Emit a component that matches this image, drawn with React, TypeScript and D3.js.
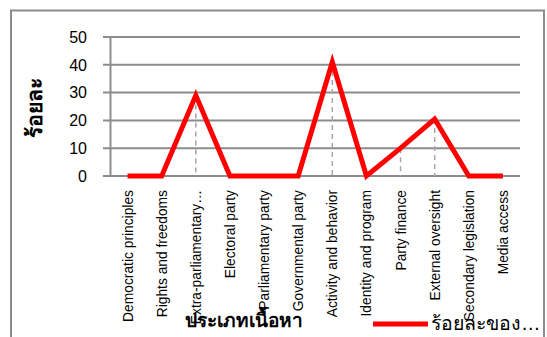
import React from "react";
import * as d3 from "d3";

const categories = [
  "Democratic principles",
  "Rights and freedoms",
  "Extra-parliamentary…",
  "Electoral party",
  "Parliamentary party",
  "Governmental party",
  "Activity and behavior",
  "Identity and program",
  "Party finance",
  "External oversight",
  "Secondary legislation",
  "Media access",
];
const values = [0, 0, 29, 0, 0, 0, 41, 0, 10, 20.5, 0, 0];
const yTicks = [0, 10, 20, 30, 40, 50];
const yTitle = "ร้อยละ";
const xTitle = "ประเภทเนื้อหา";
const legendLabel = "ร้อยละของ…";

const W = 547;
const H = 337;
const FONT = "'Liberation Sans', Arial, sans-serif";

export default function App() {
  const left = 110.5;
  const right = 520;
  const top = 37;
  const bottom = 176;
  const x = d3.scaleBand<string>().domain(categories).range([left, right]);
  const y = d3.scaleLinear().domain([0, 50]).range([bottom, top]);
  const cx = (c: string) => (x(c) as number) + x.bandwidth() / 2;
  const pts = categories.map((c, i) => ({ c, v: values[i] }));
  const line = d3
    .line<{ c: string; v: number }>()
    .x((d) => cx(d.c))
    .y((d) => y(d.v));

  return (
    <svg
      width={W}
      height={H}
      style={{ position: "absolute", left: 0, top: 0, background: "#fff" }}
    >
      <rect x={11} y={10.5} width={533} height={340} fill="#fff" stroke="#8c8c8c" strokeWidth={2} />
      {yTicks.map((t) => (
        <g key={t}>
          <line x1={103} x2={right} y1={y(t)} y2={y(t)} stroke="#8c8c8c" strokeWidth={2} />
          <text
            x={87}
            y={y(t)}
            dy="0.36em"
            textAnchor="end"
            fontFamily={FONT}
            fontSize={16}
            fill="#000"
          >
            {t}
          </text>
        </g>
      ))}
      <line x1={left} x2={left} y1={top} y2={bottom} stroke="#8c8c8c" strokeWidth={2} />
      {pts
        .filter((d) => d.v > 0)
        .map((d) => (
          <line
            key={d.c}
            x1={cx(d.c)}
            x2={cx(d.c)}
            y1={y(d.v)}
            y2={bottom}
            stroke="#a6a6a6"
            strokeWidth={1.5}
            strokeDasharray="5,4"
          />
        ))}
      <path
        d={line(pts) as string}
        fill="none"
        stroke="#ff0000"
        strokeWidth={5}
        strokeLinejoin="miter"
        strokeLinecap="butt"
      />
      {categories.map((c) => (
        <text
          key={c}
          transform={`translate(${cx(c) + 5},190) rotate(-90)`}
          textAnchor="end"
          fontFamily={FONT}
          fontSize={13.8}
          fill="#000"
        >
          {c}
        </text>
      ))}
      <text
        transform={`translate(42,${(top + bottom) / 2 + 1}) rotate(-90)`}
        textAnchor="middle"
        fontFamily={FONT}
        fontSize={21}
        fontWeight="bold"
        fill="#000"
      >
        {yTitle}
      </text>
      <text
        x={244}
        y={327}
        textAnchor="middle"
        fontFamily={FONT}
        fontSize={19}
        fontWeight="bold"
        fill="#000"
      >
        {xTitle}
      </text>
      <line x1={373} x2={428} y1={324} y2={324} stroke="#ff0000" strokeWidth={5} />
      <text x={431} y={330} fontFamily={FONT} fontSize={19.5} fill="#000">
        {legendLabel}
      </text>
    </svg>
  );
}
